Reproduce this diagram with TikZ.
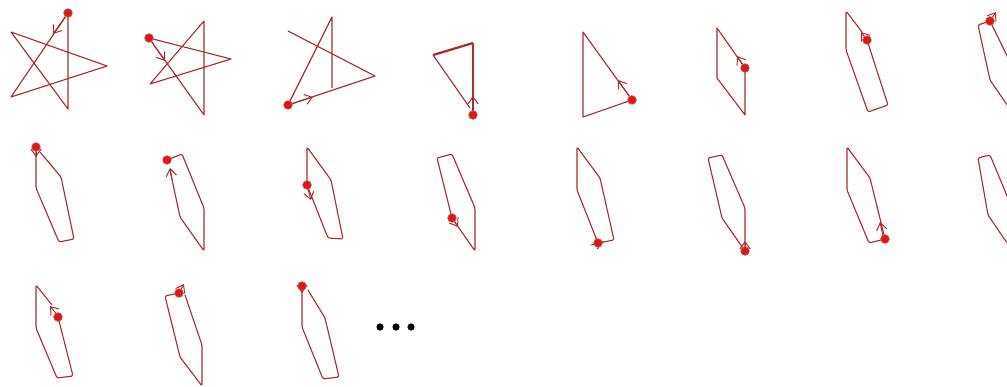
\documentclass[tikz,border=0pt]{standalone}
\usetikzlibrary{arrows.meta}

\definecolor{strokered}{RGB}{170,45,45}
\definecolor{startred}{RGB}{215,25,25}

\begin{document}
\begin{tikzpicture}
[
	x=0.025cm,y=-0.025cm,
	trail/.style={draw=strokered,line width=0.8pt,line join=round},
	pencil/.style={trail,rounded corners=1pt},
	dirtip/.style={draw=strokered,line width=0.7pt,-{Straight Barb[length=1.8mm,width=2.6mm]}},
	startpt/.style={circle,fill=startred,draw=startred!70,inner sep=0pt,minimum size=2.2mm},
	morept/.style={circle,fill=black,inner sep=0pt,minimum size=1.8mm}
]

	\useasboundingbox (0,0) rectangle (1007,387);
	\clip (0,0) rectangle (1007,387);

	% row 1: star, then fewer strokes
	\draw[trail] (68,13) -- (11,97) -- (107,66) -- (11,32) -- (68,109) -- cycle;
	\draw[dirtip] (68,13) -- (53,34);
	\node[startpt] (s1) at (68,13) {};

	\draw[trail] (149,38) -- (204,115) -- (204,21) -- (150,84) -- (231,59) -- cycle;
	\draw[dirtip] (149,38) -- (165,61);
	\node[startpt] (s2) at (149,38) {};

	\draw[trail] (288,31) -- (375,76) -- (288,105) -- (332,17) -- (332,88);
	\draw[dirtip] (288,105) -- (313,97);
	\node[startpt] (s3) at (288,105) {};

	\draw[trail] (473,115) -- (473,43);
	\draw[trail,line width=1.6pt] (473,43) -- (433,55);
	\draw[trail] (433,55) -- (470,108);
	\draw[dirtip] (473,115) -- (473,96);
	\node[startpt] (s4) at (473,115) {};

	\draw[trail] (632,100) -- (583,32) -- (583,117) -- cycle;
	\draw[dirtip] (632,100) -- (618,80);
	\node[startpt] (s5) at (632,100) {};

	\draw[trail] (745,68) -- (717,28) -- (717,78) -- (745,115) -- cycle;
	\draw[dirtip] (745,68) -- (737,56);
	\node[startpt] (s6) at (745,68) {};

	\draw[pencil] (867,40) -- (888,105) -- (868,112) -- (846,50) -- (846,11) -- (862,32);
	\draw[dirtip] (867,40) -- (861,32);
	\node[startpt] (s7) at (867,40) {};

	\draw[pencil] (1012,66) -- (990,21) -- (978,25) -- (990,80) -- (1012,112);
	\draw[dirtip] (990,21) -- (996,12);
	\node[startpt] (s8) at (990,21) {};

	% row 2
	\draw[pencil] (36,147) -- (36,188) -- (59,242) -- (74,239) -- (61,177) -- (40,152);
	\draw[dirtip] (36,147) -- (36,157);
	\node[startpt] (s9) at (36,147) {};

	\draw[pencil] (167,160) -- (182,154) -- (204,208) -- (204,251) -- (180,217) -- (170,170);
	\draw[dirtip] (172,180) -- (170,168);
	\node[startpt] (s10) at (167,160) {};

	\draw[pencil] (307,185) -- (328,238) -- (343,239) -- (331,180) -- (307,147) -- cycle;
	\draw[dirtip] (307,186) -- (311,200);
	\node[startpt] (s11) at (307,185) {};

	\draw[pencil] (452,218) -- (437,158) -- (452,154) -- (475,208) -- (475,251) -- cycle;
	\draw[dirtip] (451,216) -- (458,227);
	\node[startpt] (s12) at (452,218) {};

	\draw[pencil] (598,243) -- (614,240) -- (600,178) -- (577,147) -- (577,190) -- cycle;
	\draw[dirtip] (591,245) -- (604,242);
	\node[startpt] (s13) at (598,243) {};

	\draw[pencil] (745,251) -- (745,208) -- (722,155) -- (708,158) -- (722,218) -- cycle;
	\draw[dirtip] (745,251) -- (745,241);
	\node[startpt] (s14) at (745,251) {};

	\draw[pencil] (885,239) -- (870,178) -- (847,147) -- (847,190) -- (869,243) -- cycle;
	\draw[dirtip] (883,236) -- (880,222);
	\node[startpt] (s15) at (885,239) {};

	\draw[pencil] (1015,215) -- (990,155) -- (978,158) -- (988,215) -- (1005,240) -- (1015,252);

	% row 3
	\draw[pencil] (58,317) -- (73,376) -- (57,378) -- (36,328) -- (36,285) -- (52,305);
	\draw[dirtip] (58,316) -- (50,306);
	\node[startpt] (s17) at (58,317) {};

	\draw[pencil] (179,293) -- (165,296) -- (180,357) -- (202,386) -- (202,345) -- (185,295);
	\draw[dirtip] (179,293) -- (184,284);
	\node[startpt] (s18) at (179,293) {};

	\draw[pencil] (302,286) -- (302,327) -- (323,379) -- (339,377) -- (325,318) -- (308,290);
	\draw[dirtip] (302,286) -- (302,293);
	\node[startpt] (s19) at (302,286) {};

	% and so on
	\foreach \i/\x in {1/380,2/396,3/411}
		\node[morept] (more\i) at (\x,327) {};

\end{tikzpicture}
\end{document}
